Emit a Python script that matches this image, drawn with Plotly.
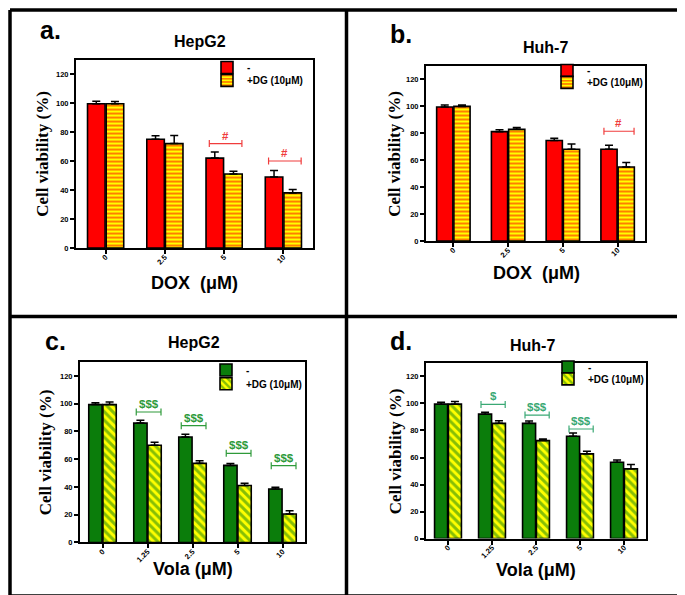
import plotly.graph_objects as go

# ---------------- data ----------------
dox_cats = ["0", "2.5", "5", "10"]
vola_cats = ["0", "1.25", "2.5", "5", "10"]
series_names = ["-", "+DG (10\u03bcM)"]

# a. HepG2 / DOX
a_ctrl = [99.5, 75.0, 62.0, 49.0]
a_ctrl_err = [1.8, 2.5, 4.2, 4.5]
a_dg = [99.5, 72.0, 51.0, 38.0]
a_dg_err = [1.5, 5.6, 2.0, 2.3]
a_sig = [(2, 72.0, "#"), (3, 60.0, "#")]

# b. Huh-7 / DOX
b_ctrl = [99.3, 81.0, 74.5, 68.0]
b_ctrl_err = [1.5, 1.5, 1.7, 2.9]
b_dg = [99.7, 82.7, 68.0, 54.8]
b_dg_err = [1.0, 1.4, 3.9, 3.4]
b_sig = [(3, 81.3, "#")]

# c. HepG2 / Vola
c_ctrl = [99.3, 86.0, 76.0, 55.5, 38.5]
c_ctrl_err = [1.4, 2.0, 1.9, 1.3, 1.2]
c_dg = [99.3, 70.0, 57.0, 41.0, 20.5]
c_dg_err = [1.9, 2.2, 1.9, 1.6, 2.4]
c_sig = [(1, 94.0, "$$$"), (2, 84.1, "$$$"), (3, 64.2, "$$$"), (4, 55.3, "$$$")]

# d. Huh-7 / Vola
d_ctrl = [99.5, 92.1, 85.3, 75.7, 56.5]
d_ctrl_err = [1.5, 1.5, 1.7, 2.4, 1.7]
d_dg = [99.5, 85.3, 72.5, 62.7, 51.6]
d_dg_err = [2.0, 1.9, 1.2, 1.9, 3.2]
d_sig = [(1, 99.3, "$"), (2, 91.4, "$$$"), (3, 81.1, "$$$")]

y_ticks = [0, 20, 40, 60, 80, 100, 120]

# ---------------- layout helpers ----------------
W, H = 685, 595
def px(x):
    return x / W
def py(y):
    return 1 - y / H

SANS = "Liberation Sans, Arial, sans-serif"
SERIF = "Liberation Serif, Times New Roman, serif"
RED = "#ff0000"
YEL = "#ffff00"
GRN = "#0b7d0b"

panels = [
    dict(letter="a.", title="HepG2", xtitle="DOX\u00a0 (\u03bcM)", cats=dox_cats,
         ctrl=a_ctrl, ctrl_err=a_ctrl_err, dg=a_dg, dg_err=a_dg_err, sig=a_sig,
         box=(68, 305, 52, 242), letter_xy=(30, 22), title_xy=(192, 34),
         ytitle_xy=(35, 147), xtitle_xy=(187, 277), leg=(232, 60, 73),
         color=RED, shape="-", psize=4, sigcolor="#f03c3c"),
    dict(letter="b.", title="Huh-7", xtitle="DOX\u00a0 (\u03bcM)", cats=dox_cats,
         ctrl=b_ctrl, ctrl_err=b_ctrl_err, dg=b_dg, dg_err=b_dg_err, sig=b_sig,
         box=(418, 637, 58, 235), letter_xy=(380, 26), title_xy=(537, 40),
         ytitle_xy=(387, 147), xtitle_xy=(528, 267), leg=(572, 63, 75),
         color=RED, shape="-", psize=4, sigcolor="#f03c3c"),
    dict(letter="c.", title="HepG2", xtitle="Vola (\u03bcM)", cats=vola_cats,
         ctrl=c_ctrl, ctrl_err=c_ctrl_err, dg=c_dg, dg_err=c_dg_err, sig=c_sig,
         box=(72, 297, 357, 539), letter_xy=(35, 336), title_xy=(186, 337),
         ytitle_xy=(37, 448), xtitle_xy=(185, 566), leg=(231, 365, 379),
         color=GRN, shape="\\", psize=6, sigcolor="#2e9a3a"),
    dict(letter="d.", title="Huh-7", xtitle="Vola (\u03bcM)", cats=vola_cats,
         ctrl=d_ctrl, ctrl_err=d_ctrl_err, dg=d_dg, dg_err=d_dg_err, sig=d_sig,
         box=(418, 638, 358, 535), letter_xy=(380, 336), title_xy=(524, 340),
         ytitle_xy=(387, 447), xtitle_xy=(528, 567), leg=(573, 362, 374),
         color=GRN, shape="\\", psize=6, sigcolor="#3aa874"),
]

fig = go.Figure()
annotations = []
layout_axes = {}
leg_idx = 0

def legname(i):
    return "legend" if i == 0 else f"legend{i+1}"

def add_legend(i, sx, sy):
    layout_axes[legname(i)] = dict(
        x=px(sx - 33), y=py(sy), xanchor="left", yanchor="middle",
        bgcolor="rgba(0,0,0,0)",
        font=dict(family=SANS, size=10, color="black", weight="bold"))

for k, p in enumerate(panels):
    n = len(p["cats"])
    xs = list(range(n))
    ax = "" if k == 0 else str(k + 1)
    xa, ya = "x" + ax, "y" + ax
    x0, x1, y0, y1 = p["box"]
    leg_lx, leg_y1, leg_y2 = p["leg"]

    # control bars
    fig.add_trace(go.Bar(
        x=xs, y=p["ctrl"], name=series_names[0], xaxis=xa, yaxis=ya,
        offsetgroup="a", legend=legname(leg_idx),
        marker=dict(color=p["color"], line=dict(color="black", width=1.6)),
        error_y=dict(type="data", symmetric=False, array=p["ctrl_err"],
                     arrayminus=[0] * n, color="black", thickness=1.5, width=4),
    ))
    add_legend(leg_idx, leg_lx, leg_y1)
    leg_idx += 1

    # +DG bars
    fig.add_trace(go.Bar(
        x=xs, y=p["dg"], name=series_names[1], xaxis=xa, yaxis=ya,
        offsetgroup="b", legend=legname(leg_idx),
        marker=dict(color=YEL, line=dict(color="black", width=1.6),
                    pattern=dict(shape=p["shape"], fgcolor=p["color"], bgcolor=YEL,
                                 size=p["psize"], solidity=0.5)),
        error_y=dict(type="data", symmetric=False, array=p["dg_err"],
                     arrayminus=[0] * n, color="black", thickness=1.5, width=4),
    ))
    add_legend(leg_idx, leg_lx, leg_y2)
    leg_idx += 1

    # significance brackets
    for (ci, yv, lab) in p["sig"]:
        fig.add_trace(go.Scatter(
            x=[ci - 0.25, ci + 0.30], y=[yv, yv], xaxis=xa, yaxis=ya,
            mode="lines+markers", showlegend=False, hoverinfo="skip",
            line=dict(color=p["sigcolor"], width=1.2),
            marker=dict(symbol="line-ns-open", size=5,
                        line=dict(color=p["sigcolor"], width=1.2)),
        ))
        annotations.append(dict(
            x=ci + 0.025, y=yv, xref=xa, yref=ya, text=lab, showarrow=False,
            yanchor="bottom", yshift=0,
            font=dict(family=SANS, size=11.5, color=p["sigcolor"], weight="bold")))

    axis_common = dict(showline=True, linecolor="black", linewidth=2, mirror=True,
                       ticks="outside", ticklen=4, tickwidth=1.5, tickcolor="black",
                       showgrid=False, zeroline=False,
                       tickfont=dict(family=SANS, size=7.5, color="black", weight="bold"))
    layout_axes["xaxis" + ax] = dict(
        axis_common, domain=[px(x0), px(x1)], anchor=ya, range=[-0.5, n - 0.5],
        tickvals=xs, ticktext=p["cats"], tickangle=-45, ticklabelstandoff=-4)
    layout_axes["yaxis" + ax] = dict(
        axis_common, domain=[py(y1), py(y0)], anchor=xa, range=[0, 130],
        tickvals=y_ticks, ticklen=4)

    # texts
    lx, ly = p["letter_xy"]
    annotations.append(dict(x=px(lx), y=py(ly), xref="paper", yref="paper", text=p["letter"],
                            showarrow=False, xanchor="left", yanchor="middle",
                            font=dict(family=SANS, size=25, color="black", weight="bold")))
    tx, ty = p["title_xy"]
    annotations.append(dict(x=px(tx), y=py(ty), xref="paper", yref="paper", text=p["title"],
                            showarrow=False, xanchor="center", yanchor="middle",
                            font=dict(family=SANS, size=16, color="black", weight="bold")))
    yx, yy = p["ytitle_xy"]
    annotations.append(dict(x=px(yx), y=py(yy), xref="paper", yref="paper",
                            text="Cell viability (%)", textangle=-90,
                            showarrow=False, xanchor="center", yanchor="middle",
                            font=dict(family=SERIF, size=17, color="black", weight="bold")))
    xx, xy = p["xtitle_xy"]
    annotations.append(dict(x=px(xx), y=py(xy), xref="paper", yref="paper", text=p["xtitle"],
                            showarrow=False, xanchor="center", yanchor="middle",
                            font=dict(family=SANS, size=18, color="black", weight="bold")))

# frame lines
shapes = []
def line(xa_, ya_, xb_, yb_, w=3.5):
    shapes.append(dict(type="line", xref="paper", yref="paper",
                       x0=px(xa_), y0=py(ya_), x1=px(xb_), y1=py(yb_),
                       line=dict(color="black", width=w)))
line(2, 2, 683, 2)
line(2, 593, 683, 593)
line(2, 2, 2, 593)
line(683, 2, 683, 593)
line(338.5, 2, 338.5, 593)
line(2, 311, 683, 311)

fig.update_layout(
    width=W, height=H, margin=dict(l=0, r=0, t=0, b=0),
    paper_bgcolor="white", plot_bgcolor="white",
    barmode="group", bargap=0.37, bargroupgap=0.06,
    annotations=annotations, shapes=shapes, **layout_axes,
)

fig.write_html("out.html")
